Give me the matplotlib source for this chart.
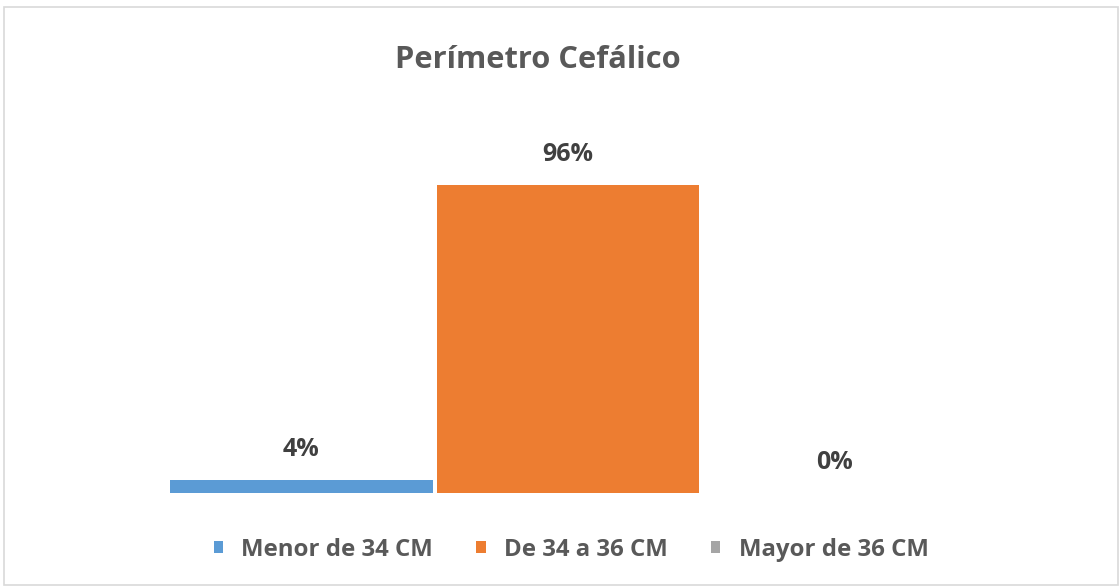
import matplotlib
matplotlib.use('Agg')
import matplotlib.pyplot as plt
from matplotlib.patches import Rectangle

# Data
categorias = ['Menor de 34 CM', 'De 34 a 36 CM', 'Mayor de 36 CM']
porcentajes = [0.04, 0.96, 0.0]
etiquetas = ['4%', '96%', '0%']
colores = ['#5B9BD5', '#ED7D31', '#A5A5A5']

plt.rcParams['font.family'] = ['Open Sans', 'DejaVu Sans']

fig = plt.figure(figsize=(11.19, 5.86), dpi=100)
ax = fig.add_axes([168 / 1119, 93 / 586, 800 / 1119, 343 / 586])

# chart border
fig.patches.append(Rectangle((4 / 1119, 1 / 586), 1114 / 1119, 578 / 586,
                             transform=fig.transFigure, fill=False,
                             edgecolor='#d9d9d9', linewidth=1.2))

for i, (cat, val, col) in enumerate(zip(categorias, porcentajes, colores)):
    ax.bar(i, val, width=0.985, color=col, label=cat)
    ax.annotate(etiquetas[i], xy=(i, val), xytext=(0, 13), textcoords='offset points',
                ha='center', va='bottom', fontsize=18, fontweight='bold', color='#404040')

ax.set_xlim(-0.5, 2.5)
ax.set_ylim(0, 1.069)
ax.axis('off')

fig.text(538 / 1119, 1 - 60 / 586, 'Perímetro Cefálico', ha='center', va='center',
         fontsize=22.2, fontweight='bold', color='#595959')

leg = fig.legend(loc='center', bbox_to_anchor=(571 / 1119, 1 - 550 / 586), ncol=3,
                 frameon=False, fontsize=17.3, handlelength=0.4, handleheight=0.4,
                 handletextpad=0.75, columnspacing=1.8)
for t in leg.get_texts():
    t.set_color('#595959')
    t.set_fontweight('bold')

fig.savefig('out.png', dpi=100)
